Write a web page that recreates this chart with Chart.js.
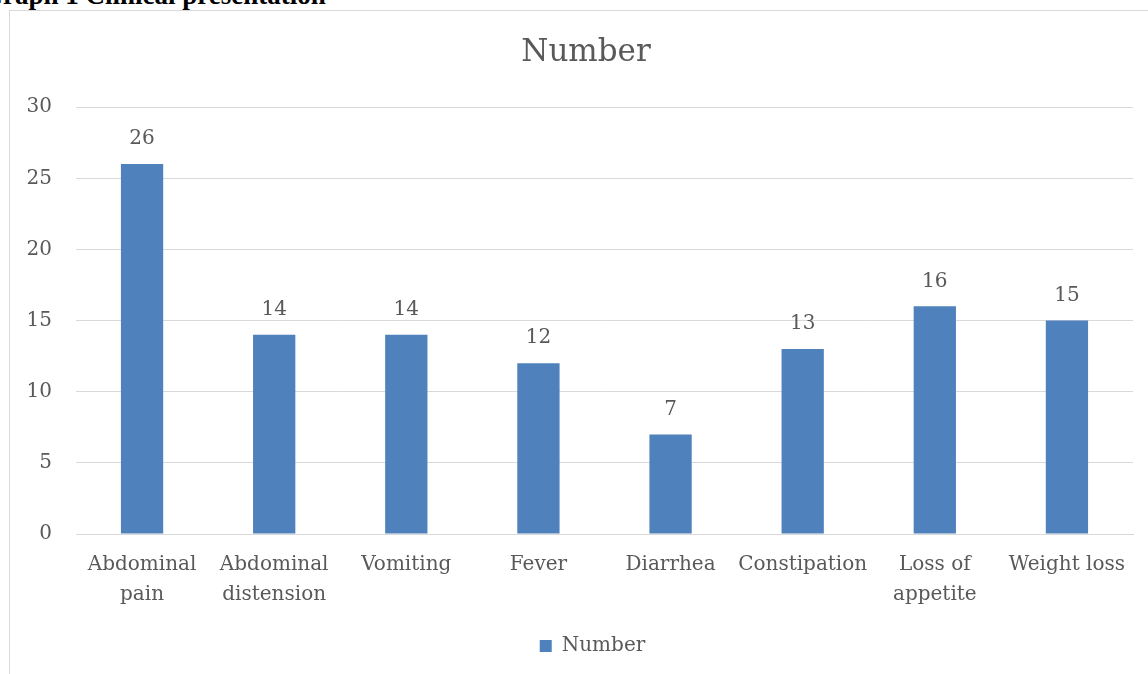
<!DOCTYPE html>
<html><head><meta charset="utf-8">
<script src="https://cdn.jsdelivr.net/npm/chart.js@4"></script>
<style>
html,body{margin:0;padding:0;background:#fff;width:1148px;height:674px;overflow:hidden;position:relative;}
#hdr{position:absolute;left:-18px;top:-18px;font:bold 27px/26px "Liberation Serif","Times New Roman",serif;color:#000;white-space:nowrap;}
#frame{position:absolute;left:9px;top:10px;width:1160px;height:700px;border:1px solid #d9d9d9;box-sizing:border-box;}
#wrap{position:absolute;left:10px;top:11px;width:1138px;height:663px;}
</style></head><body>
<div id="hdr">Graph 1 Clinical presentation</div>
<div id="frame"></div>
<div id="wrap"><canvas id="c"></canvas></div>
<script>
const categories = [["Abdominal","pain"],["Abdominal","distension"],"Vomiting","Fever","Diarrhea","Constipation",["Loss of","appetite"],"Weight loss"];
const values = [26,14,14,12,7,13,16,15];
const seriesName = "Number";
const yTicks = [0,5,10,15,20,25,30];

const FONT = '"DejaVu Serif", serif';
const TXT = '#595959';

const labelPlugin = {
  id:'vlabels',
  afterLayout(chart){
    if (chart.titleBlock) chart.titleBlock.left += 19;
    if (chart.legend) chart.legend.left += 32;
  },
  afterDatasetsDraw(chart){
    const ctx = chart.ctx;
    const meta = chart.getDatasetMeta(0);
    ctx.save();
    ctx.font = '20px ' + FONT;
    ctx.fillStyle = TXT;
    ctx.textAlign = 'center';
    ctx.textBaseline = 'middle';
    meta.data.forEach((el,i)=>{
      ctx.fillText(String(chart.data.datasets[0].data[i]), el.x, el.y - 25);
    });
    ctx.restore();
  }
};

new Chart(document.getElementById('c'),{
  type:'bar',
  data:{labels:categories,datasets:[{label:seriesName,data:values,backgroundColor:'#4f81bd',borderWidth:0,categoryPercentage:1,barPercentage:0.32}]},
  options:{
    responsive:true,maintainAspectRatio:false,animation:false,
    layout:{padding:{left:10,right:15,top:0,bottom:8}},
    plugins:{
      title:{display:true,text:seriesName,color:TXT,font:{family:FONT,size:31,weight:'normal'},padding:{top:23,bottom:36}},
      legend:{position:'bottom',labels:{color:TXT,font:{family:FONT,size:20},boxWidth:12,boxHeight:12,padding:10}},
      tooltip:{enabled:false}
    },
    scales:{
      x:{grid:{display:false},border:{display:true,color:'#d9d9d9'},
         ticks:{color:TXT,font:{family:FONT,size:20,lineHeight:1.5},maxRotation:0,autoSkip:false,padding:8},
         afterFit(s){s.height=92;}},
      y:{min:0,max:30,grid:{color:'#d9d9d9',drawTicks:false},border:{display:false},
         afterBuildTicks(s){s.ticks=yTicks.map(v=>({value:v}));},
         ticks:{color:TXT,font:{family:FONT,size:20},padding:24},
         afterFit(s){s.width=56;}}
    }
  },
  plugins:[labelPlugin]
});
</script>
</body></html>
